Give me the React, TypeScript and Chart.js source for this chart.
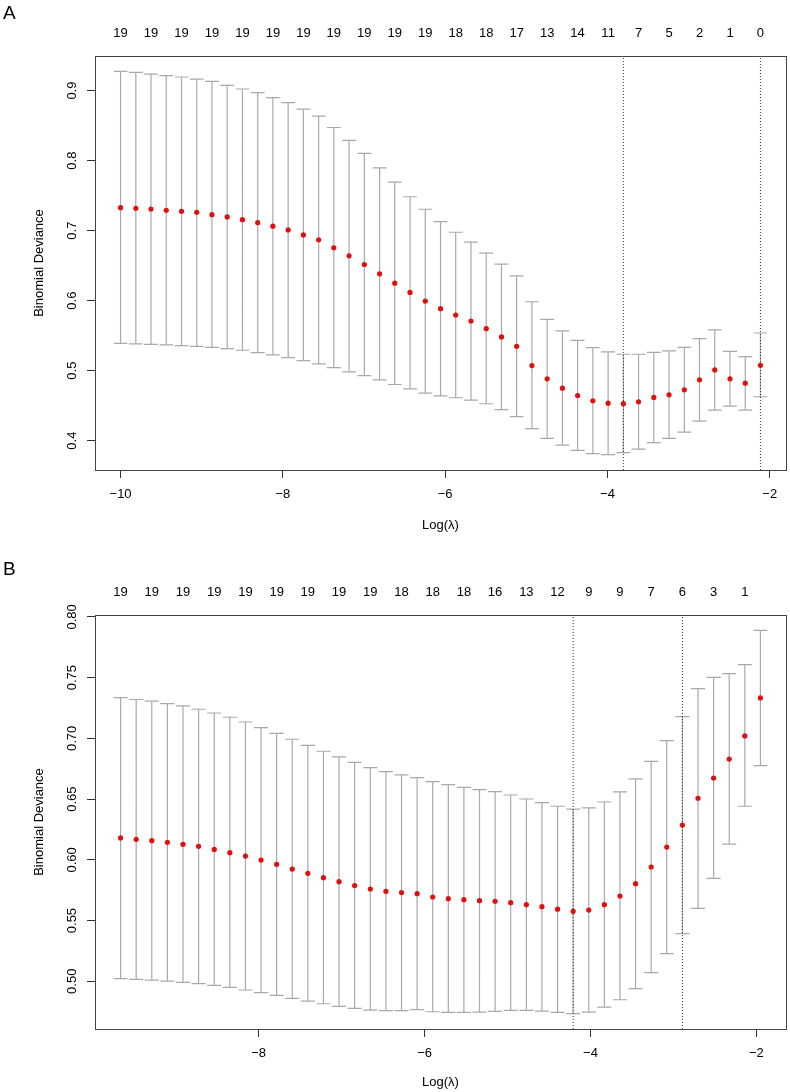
import React, { useEffect, useRef } from "react";
import Chart from "chart.js/auto";

const FONT = "'Liberation Sans', Arial, Helvetica, sans-serif";

// ---------- Panel A ----------
const logLambdaA = [
  -10.0, -9.812, -9.625, -9.437, -9.249, -9.061, -8.874, -8.686, -8.498, -8.31,
  -8.123, -7.935, -7.747, -7.559, -7.372, -7.184, -6.996, -6.808, -6.621, -6.433,
  -6.245, -6.057, -5.87, -5.682, -5.494, -5.306, -5.119, -4.931, -4.743, -4.555,
  -4.368, -4.18, -3.992, -3.804, -3.617, -3.429, -3.241, -3.053, -2.866, -2.678,
  -2.49, -2.302, -2.115,
];
const cvmA = [
  0.7328, 0.7319, 0.7309, 0.729, 0.7276, 0.7262, 0.7228, 0.7195, 0.7157, 0.7114,
  0.7063, 0.701, 0.6939, 0.6868, 0.6754, 0.664, 0.6516, 0.6383, 0.625, 0.6117,
  0.5994, 0.5885, 0.5795, 0.5709, 0.56, 0.5481, 0.5348, 0.5073, 0.4883, 0.475,
  0.4645, 0.457, 0.4535, 0.4528, 0.4556, 0.4617, 0.4655, 0.4726, 0.4869, 0.5011,
  0.4883, 0.4821, 0.5077,
];
const cvupA = [
  0.9275, 0.9261, 0.9236, 0.9214, 0.9194, 0.9165, 0.9132, 0.9075, 0.9023, 0.8972,
  0.89, 0.8829, 0.8734, 0.8634, 0.8473, 0.8288, 0.8103, 0.7897, 0.7694, 0.7484,
  0.7305, 0.7128, 0.6977, 0.6835, 0.6678, 0.6521, 0.6355, 0.5984, 0.5733, 0.5567,
  0.5433, 0.5329, 0.5268, 0.5234, 0.5234, 0.5262, 0.5282, 0.5333, 0.5457, 0.5581,
  0.5276, 0.5201, 0.5538,
];
const cvloA = [
  0.539, 0.5382, 0.5376, 0.5367, 0.5357, 0.5348, 0.5333, 0.5315, 0.5291, 0.5258,
  0.5225, 0.5187, 0.5144, 0.5097, 0.5044, 0.4983, 0.493, 0.4869, 0.4802, 0.4741,
  0.4678, 0.4641, 0.4613, 0.4578, 0.4527, 0.4442, 0.4342, 0.4171, 0.4033, 0.3937,
  0.3862, 0.3815, 0.38, 0.3829, 0.388, 0.3971, 0.4033, 0.4122, 0.428, 0.4436,
  0.4493, 0.4436, 0.4627,
];
// number of non-zero coefficients, shown above every second lambda
const nzeroA = [19, 19, 19, 19, 19, 19, 19, 19, 19, 19, 19, 18, 18, 17, 13, 14, 11, 7, 5, 2, 1, 0];
const vlinesA = [-3.804, -2.115];
const xTicksA = [-10, -8, -6, -4, -2];
const xTickLabelsA = ["\u221210", "\u22128", "\u22126", "\u22124", "\u22122"];
const yTicksA = [0.4, 0.5, 0.6, 0.7, 0.8, 0.9];
const yTickLabelsA = ["0.4", "0.5", "0.6", "0.7", "0.8", "0.9"];

// ---------- Panel B ----------
const logLambdaB = [
  -9.664, -9.476, -9.288, -9.1, -8.912, -8.724, -8.535, -8.347, -8.159, -7.971,
  -7.783, -7.595, -7.407, -7.219, -7.031, -6.843, -6.654, -6.466, -6.278, -6.09,
  -5.902, -5.714, -5.526, -5.338, -5.15, -4.962, -4.773, -4.585, -4.397, -4.209,
  -4.021, -3.833, -3.645, -3.457, -3.269, -3.081, -2.892, -2.704, -2.516, -2.328,
  -2.14, -1.952,
];
const cvmB = [
  0.618, 0.6169, 0.6158, 0.6144, 0.6128, 0.6111, 0.6086, 0.6059, 0.6031, 0.5998,
  0.5963, 0.5924, 0.5889, 0.5853, 0.582, 0.5788, 0.576, 0.5741, 0.573, 0.5721,
  0.5694, 0.568, 0.5672, 0.5664, 0.5658, 0.5647, 0.5631, 0.5614, 0.5594, 0.5576,
  0.5586, 0.5631, 0.5702, 0.5804, 0.5941, 0.6105, 0.6287, 0.6507, 0.6674, 0.683,
  0.702, 0.7333,
];
const cvupB = [
  0.7336, 0.732, 0.7306, 0.7287, 0.7267, 0.724, 0.7209, 0.7174, 0.7135, 0.7089,
  0.7042, 0.6993, 0.6943, 0.6894, 0.6847, 0.6803, 0.6759, 0.6726, 0.6699, 0.6677,
  0.6644, 0.6619, 0.6597, 0.6578, 0.6562, 0.6534, 0.6501, 0.6471, 0.6441, 0.6418,
  0.6427, 0.6476, 0.6559, 0.6666, 0.6811, 0.6982, 0.718, 0.741, 0.7503, 0.7534,
  0.7608, 0.789,
];
const cvloB = [
  0.5021, 0.5016, 0.501, 0.5002, 0.4991, 0.498, 0.4966, 0.495, 0.4928, 0.4906,
  0.4884, 0.4859, 0.4837, 0.4815, 0.4793, 0.4777, 0.4763, 0.4758, 0.4758, 0.4766,
  0.4749, 0.4744, 0.4744, 0.4746, 0.4752, 0.476, 0.476, 0.4755, 0.4744, 0.4733,
  0.4746, 0.4787, 0.4848, 0.4939, 0.5071, 0.5227, 0.5392, 0.56, 0.5848, 0.613,
  0.6441, 0.6776,
];
const nzeroB = [19, 19, 19, 19, 19, 19, 19, 19, 19, 18, 18, 18, 16, 13, 12, 9, 9, 7, 6, 3, 1];
const vlinesB = [-4.209, -2.892];
const xTicksB = [-8, -6, -4, -2];
const xTickLabelsB = ["\u22128", "\u22126", "\u22124", "\u22122"];
const yTicksB = [0.5, 0.55, 0.6, 0.65, 0.7, 0.75, 0.8];
const yTickLabelsB = ["0.50", "0.55", "0.60", "0.65", "0.70", "0.75", "0.80"];

const W = 790;
const H = 546;
const CAP = 0.085;
const GAP = { x: NaN, y: NaN };

type PanelProps = {
  letter: string;
  letterTop: number;
  xs: number[];
  mean: number[];
  up: number[];
  lo: number[];
  nz: number[];
  vlines: number[];
  xTicks: number[];
  xTickLabels: string[];
  yTicks: number[];
  yTickLabels: string[];
  xRange: [number, number];
  yRange: [number, number];
  box: { left: number; right: number; top: number; bottom: number };
  yTickPad: number;
  xTitlePad: number;
};

const boxPlugin = {
  id: "rbox",
  afterDatasetsDraw(chart: any) {
    const { ctx, chartArea: a } = chart;
    ctx.save();
    ctx.strokeStyle = "#444";
    ctx.lineWidth = 1;
    ctx.strokeRect(Math.round(a.left) + 0.5, Math.round(a.top) + 0.5, Math.round(a.right - a.left), Math.round(a.bottom - a.top));
    ctx.restore();
  },
};

function Panel(p: PanelProps) {
  const ref = useRef<HTMLCanvasElement | null>(null);
  useEffect(() => {
    if (!ref.current) return;
    const bars: any[] = [];
    p.xs.forEach((x, i) => {
      bars.push({ x, y: p.lo[i] }, { x, y: p.up[i] }, GAP);
      bars.push({ x: x - CAP, y: p.up[i] }, { x: x + CAP, y: p.up[i] }, GAP);
      bars.push({ x: x - CAP, y: p.lo[i] }, { x: x + CAP, y: p.lo[i] }, GAP);
    });
    const vl: any[] = [];
    p.vlines.forEach((v) => {
      vl.push({ x: v, y: p.yRange[0] }, { x: v, y: p.yRange[1] }, GAP);
    });
    const pts = p.xs.map((x, i) => ({ x, y: p.mean[i] }));
    const topTicks = p.xs.filter((_, i) => i % 2 === 0);

    const chart = new Chart(ref.current, {
      type: "scatter",
      data: {
        datasets: [
          {
            data: pts,
            showLine: false,
            pointRadius: 2.6,
            pointBackgroundColor: "#E01010",
            pointBorderWidth: 0,
            pointBorderColor: "#E01010",
            order: 0,
          },
          {
            data: vl,
            showLine: true,
            spanGaps: false,
            pointRadius: 0,
            borderColor: "#333",
            borderWidth: 1,
            borderDash: [1, 2],
            order: 1,
          },
          {
            data: bars,
            showLine: true,
            spanGaps: false,
            pointRadius: 0,
            borderColor: "#A9A9A9",
            borderWidth: 1.2,
            order: 2,
          },
        ] as any,
      },
      options: {
        animation: false,
        responsive: false,
        events: [],
        layout: { padding: { left: 0, top: 0, bottom: 0, right: W - p.box.right } },
        plugins: { legend: { display: false }, tooltip: { enabled: false } },
        scales: {
          x: {
            type: "linear",
            position: "bottom",
            min: p.xRange[0],
            max: p.xRange[1],
            afterBuildTicks: (s: any) => {
              s.ticks = p.xTicks.map((v) => ({ value: v }));
            },
            afterFit: (s: any) => {
              s.height = H - p.box.bottom;
            },
            ticks: {
              autoSkip: false,
              maxRotation: 0,
              padding: 9,
              color: "#000",
              font: { size: 13 },
              callback: (_v: any, i: number) => p.xTickLabels[i],
            },
            grid: { drawOnChartArea: false, tickLength: 8, color: "#333" },
            border: { display: false },
            title: {
              display: true,
              text: "Log(\u03bb)",
              color: "#000",
              font: { size: 13 },
              padding: { top: 0, bottom: p.xTitlePad },
            },
          },
          x2: {
            type: "linear",
            position: "top",
            min: p.xRange[0],
            max: p.xRange[1],
            afterBuildTicks: (s: any) => {
              s.ticks = topTicks.map((v) => ({ value: v }));
            },
            afterFit: (s: any) => {
              s.height = p.box.top;
            },
            ticks: {
              autoSkip: false,
              maxRotation: 0,
              padding: 15,
              color: "#000",
              font: { size: 13 },
              callback: (_v: any, i: number) => String(p.nz[i]),
            },
            grid: { display: false, drawTicks: false },
            border: { display: false },
          },
          y: {
            type: "linear",
            position: "left",
            min: p.yRange[0],
            max: p.yRange[1],
            afterBuildTicks: (s: any) => {
              s.ticks = p.yTicks.map((v) => ({ value: v }));
            },
            afterFit: (s: any) => {
              s.width = p.box.left;
            },
            ticks: {
              autoSkip: false,
              minRotation: 90,
              maxRotation: 90,
              crossAlign: "center",
              padding: p.yTickPad,
              color: "#000",
              font: { size: 13 },
              callback: (_v: any, i: number) => p.yTickLabels[i],
            },
            grid: { drawOnChartArea: false, tickLength: 8, color: "#333" },
            border: { display: false },
            title: {
              display: true,
              text: "Binomial Deviance",
              color: "#000",
              font: { size: 13 },
              padding: { top: 32, bottom: 0 },
            },
          },
        },
      } as any,
      plugins: [boxPlugin],
    });
    return () => chart.destroy();
  }, []);

  return (
    <div style={{ position: "relative", width: W, height: H }}>
      <div
        style={{
          position: "absolute",
          left: 3,
          top: p.letterTop,
          fontFamily: FONT,
          fontSize: 19,
          lineHeight: "19px",
          color: "#000",
        }}
      >
        {p.letter}
      </div>
      <canvas ref={ref} width={W} height={H} style={{ display: "block", width: W, height: H }} />
    </div>
  );
}

export default function App() {
  Chart.defaults.font.family = FONT;
  Chart.defaults.color = "#000";
  return (
    <div style={{ position: "absolute", left: 0, top: 0, width: W, height: 2 * H, background: "#fff" }}>
      <Panel
        letter="A"
        letterTop={3}
        xs={logLambdaA}
        mean={cvmA}
        up={cvupA}
        lo={cvloA}
        nz={nzeroA}
        vlines={vlinesA}
        xTicks={xTicksA}
        xTickLabels={xTickLabelsA}
        yTicks={yTicksA}
        yTickLabels={yTickLabelsA}
        xRange={[-10.315, -1.8]}
        yRange={[0.3581, 0.9494]}
        box={{ left: 95, right: 787, top: 56, bottom: 470 }}
        yTickPad={6}
        xTitlePad={13}
      />
      <Panel
        letter="B"
        letterTop={13}
        xs={logLambdaB}
        mean={cvmB}
        up={cvupB}
        lo={cvloB}
        nz={nzeroB}
        vlines={vlinesB}
        xTicks={xTicksB}
        xTickLabels={xTickLabelsB}
        yTicks={yTicksB}
        yTickLabels={yTickLabelsB}
        xRange={[-9.9725, -1.6435]}
        yRange={[0.4607, 0.8016]}
        box={{ left: 95, right: 787, top: 69, bottom: 483 }}
        yTickPad={2}
        xTitlePad={2}
      />
    </div>
  );
}
